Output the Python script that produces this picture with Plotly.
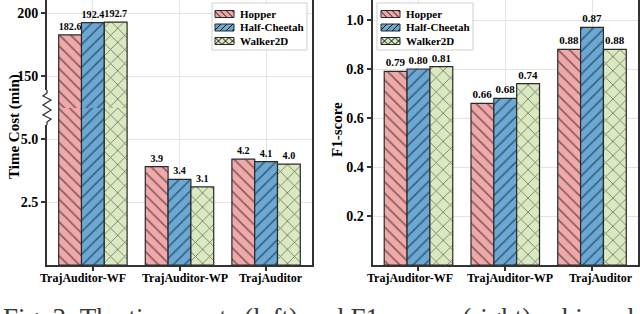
import plotly.graph_objects as go

# ---------------- data ----------------
categories = ["TrajAuditor-WF", "TrajAuditor-WP", "TrajAuditor"]
series_names = ["Hopper", "Half-Cheetah", "Walker2D"]

time_hopper = [182.6, 3.9, 4.2]
time_cheetah = [192.4, 3.4, 4.1]
time_walker = [192.7, 3.1, 4.0]

f1_hopper = [0.79, 0.66, 0.88]
f1_cheetah = [0.80, 0.68, 0.97]
f1_walker = [0.81, 0.74, 0.88]
# labels as printed on the original chart
f1_hopper_labels = ["0.79", "0.66", "0.88"]
f1_cheetah_labels = ["0.80", "0.68", "0.87"]
f1_walker_labels = ["0.81", "0.74", "0.88"]

time_ticks_low = [2.5, 5.0]
time_ticks_high = [150, 200]
f1_ticks = [0.2, 0.4, 0.6, 0.8, 1.0]

caption = "Fig. 3: The time costs (left) and F1-scores (right) achieved by"

# ---------------- styling ----------------
colors = ["rgb(241,168,168)", "rgb(106,169,214)", "rgb(218,233,192)"]
shapes_h = ["\\", "/", "x"]
FONT = "Liberation Serif"

# pixel geometry helpers
L, R, T, B = 47, 638, 0, 265
W, H = R - L, B - T
def px(x):
    return (x - L) / W
def py(y):
    return (B - y) / H

low_range = [0, (265 - 108) / 25.2]
high_range = [150 - (108 - 76) / 1.26, 150 + 76 / 1.26]

fig = go.Figure()

time_series = [time_hopper, time_cheetah, time_walker]
f1_series = [f1_hopper, f1_cheetah, f1_walker]
f1_labels = [f1_hopper_labels, f1_cheetah_labels, f1_walker_labels]

def marker(i):
    return dict(
        color=colors[i],
        line=dict(color="#2a2a2a", width=1.2),
        pattern=dict(shape=shapes_h[i], fgcolor="#111", bgcolor=colors[i],
                     size=8 if i < 2 else 10, solidity=0.2 if i < 2 else 0.17),
    )

tf_left = dict(family=FONT, size=10.1, color="black", weight="bold")
tf_right = dict(family=FONT, size=11, color="black", weight="bold")

for i, name in enumerate(series_names):
    vals = time_series[i]
    # lower part of broken axis
    fig.add_trace(go.Bar(
        x=categories, y=vals, name=name, xaxis="x", yaxis="y",
        marker=marker(i), showlegend=False,
        text=[f"{v:.1f}" if v <= low_range[1] else "" for v in vals],
        textposition="outside", textfont=tf_left, cliponaxis=False,
    ))
    # upper part of broken axis
    fig.add_trace(go.Bar(
        x=categories, y=vals, name=name, xaxis="x2", yaxis="y2",
        marker=marker(i), showlegend=False,
        text=[f"{v:.1f}" if v >= high_range[0] else "" for v in vals],
        textposition="outside", textfont=tf_left, cliponaxis=False,
    ))
    # F1 panel
    fig.add_trace(go.Bar(
        x=categories, y=f1_series[i], name=name, xaxis="x3", yaxis="y3",
        marker=marker(i), showlegend=False,
        text=f1_labels[i], textposition="outside", textfont=tf_right,
        cliponaxis=False,
    ))

axis_line = dict(showline=True, linecolor="#333", linewidth=2, zeroline=False,
                 gridcolor="#e4e4e4", gridwidth=1, automargin=False)
ytickfont = dict(family=FONT, size=14, color="black", weight="bold")
xrange = [-0.53, 2.53]

left_dom = [0, px(312)]
right_dom = [px(372.5), 1]

fig.update_layout(
    width=640, height=314,
    margin=dict(l=L, r=640 - R, t=T, b=314 - B),
    paper_bgcolor="white", plot_bgcolor="white",
    barmode="group", bargap=0.21, bargroupgap=0,
    showlegend=False,
    xaxis=dict(domain=left_dom, anchor="y", range=xrange, ticks="outside",
               ticklen=4, tickcolor="#333", tickwidth=1.5, showticklabels=False,
               showgrid=True, mirror=False, **axis_line),
    xaxis2=dict(domain=left_dom, anchor="y2", range=xrange, matches="x",
                showticklabels=False, ticks="", showline=False, showgrid=True,
                gridcolor="#e4e4e4", zeroline=False, automargin=False),
    xaxis3=dict(domain=right_dom, anchor="y3", range=xrange, ticks="outside",
                ticklen=4, tickcolor="#333", tickwidth=1.5, showticklabels=False,
                showgrid=True, mirror=False, **axis_line),
    yaxis=dict(domain=[0, py(108)], anchor="x", range=low_range,
               tickvals=time_ticks_low, ticktext=[f"{v:.1f}" for v in time_ticks_low],
               ticks="outside", ticklen=4, tickcolor="#333", tickwidth=1.5,
               tickfont=ytickfont, mirror=True, **axis_line),
    yaxis2=dict(domain=[py(108), 1], anchor="x2", range=high_range,
                tickvals=time_ticks_high, ticktext=[str(v) for v in time_ticks_high],
                ticks="outside", ticklen=4, tickcolor="#333", tickwidth=1.5,
                tickfont=ytickfont, mirror=True, **axis_line),
    yaxis3=dict(domain=[0, 1], anchor="x3", range=[0, 265 / 245],
                tickvals=f1_ticks, ticktext=[f"{v:.1f}" for v in f1_ticks],
                ticks="outside", ticklen=4, tickcolor="#333", tickwidth=1.5,
                tickfont=ytickfont, mirror=True, **axis_line),
)

# category labels (placed on the category axis, nudged as in the original)
label_shift_left = [-10, 5, 5]
label_shift_right = [-8, 5, 9]
for xa, shifts in (("x", label_shift_left), ("x3", label_shift_right)):
    for cat, s in zip(categories, shifts):
        fig.add_annotation(text=cat, xref=xa, yref="paper", x=cat, y=py(277.5),
                           xshift=s, xanchor="center", yanchor="middle",
                           showarrow=False,
                           font=dict(family=FONT, size=12, color="black", weight="bold"))

# axis titles & caption
fig.add_annotation(text="Time Cost (min)", xref="paper", yref="paper",
                   x=px(14), y=py(127), textangle=-90, showarrow=False,
                   xanchor="center", yanchor="middle",
                   font=dict(family=FONT, size=15, color="black", weight="bold"))
fig.add_annotation(text="F1-score", xref="paper", yref="paper",
                   x=px(337), y=py(130), textangle=-90, showarrow=False,
                   xanchor="center", yanchor="middle",
                   font=dict(family=FONT, size=15, color="black", weight="bold"))
fig.add_annotation(text=caption, xref="paper", yref="paper", x=px(1), y=py(301),
                   xanchor="left", yanchor="top", showarrow=False,
                   font=dict(family=FONT, size=27, color="#3a3a3a"))

# axis-break marker on the left axis
fig.add_shape(type="rect", xref="paper", yref="paper",
              x0=px(42), x1=px(52), y0=py(125), y1=py(90),
              fillcolor="white", line=dict(width=0), layer="above")
pts = [(47, 90), (47, 93), (43, 96), (51, 100), (43, 105), (51, 110),
       (43, 115), (51, 119), (47, 122), (47, 125)]
path = "M " + " L ".join(f"{px(x):.5f},{py(y):.5f}" for x, y in pts)
fig.add_shape(type="path", xref="paper", yref="paper", path=path,
              line=dict(color="#333", width=1.3), layer="above")


# ---------------- legends (drawn as boxes, swatches and text) ----------------
def hatch_segments(x0, y0, x1, y1, direction, spacing):
    """diagonal line segments (pixel space) clipped to a rectangle."""
    segs = []
    h = y1 - y0
    c = x0 - h - spacing
    while c < x1 + h + spacing:
        if direction == "\\":
            ya, yb = max(y0, y0 + (x0 - c)), min(y1, y0 + (x1 - c))
            if yb > ya:
                segs.append(((c + ya - y0, ya), (c + yb - y0, yb)))
        else:
            ya, yb = max(y0, y1 - (x1 - c)), min(y1, y1 - (x0 - c))
            if yb > ya:
                segs.append(((c + y1 - ya, ya), (c + y1 - yb, yb)))
        c += spacing
    return segs


def draw_legend(bx0, bx1, sx0):
    fig.add_shape(type="rect", xref="paper", yref="paper",
                  x0=px(bx0), x1=px(bx1), y0=py(50), y1=py(3),
                  fillcolor="rgba(255,255,255,0.92)",
                  line=dict(color="#cfcfcf", width=1), layer="above")
    rows = [14, 27.5, 41]
    for i, name in enumerate(series_names):
        yc = rows[i]
        x0, x1, y0, y1 = sx0, sx0 + 19, yc - 3.5, yc + 3.5
        fig.add_shape(type="rect", xref="paper", yref="paper",
                      x0=px(x0), x1=px(x1), y0=py(y1), y1=py(y0),
                      fillcolor=colors[i], line=dict(color="#2a2a2a", width=1),
                      layer="above")
        dirs = ["\\"] if shapes_h[i] == "\\" else (["/"] if shapes_h[i] == "/" else ["\\", "/"])
        segs = []
        for d in dirs:
            segs += hatch_segments(x0, y0, x1, y1, d, 6 if len(dirs) == 1 else 7)
        if segs:
            p = " ".join(f"M {px(a[0]):.5f},{py(a[1]):.5f} L {px(b[0]):.5f},{py(b[1]):.5f}"
                         for a, b in segs)
            fig.add_shape(type="path", xref="paper", yref="paper", path=p,
                          line=dict(color="#111", width=1), layer="above")
        fig.add_annotation(text=name, xref="paper", yref="paper",
                           x=px(x1 + 4), y=py(yc), xanchor="left", yanchor="middle",
                           showarrow=False,
                           font=dict(family=FONT, size=11, color="black", weight="bold"))


draw_legend(212, 307, 215)
draw_legend(377, 473, 381)

# the page is exactly the figure: remove the browser's default body margin
fig.write_html("out.html",
               config={"displayModeBar": False},
               post_script="document.body.style.margin='0';document.body.style.overflow='hidden';")
